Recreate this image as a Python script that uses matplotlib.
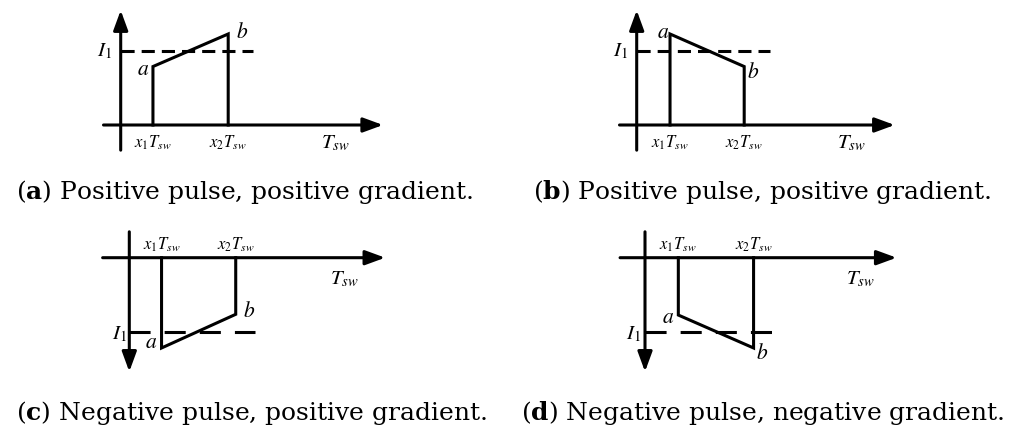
import matplotlib.pyplot as plt

plt.rcParams["mathtext.fontset"] = "custom"
plt.rcParams["mathtext.rm"] = "DejaVu Serif"
plt.rcParams["mathtext.bf"] = "DejaVu Serif:bold"

# pulse shapes: edges in units of T_sw, currents in units of I_1
x_on = [0.15, 0.155, 0.15, 0.155]
x_off = [0.50, 0.50, 0.495, 0.505]
i_start = [0.79, 1.23, -1.22, -0.775]
i_end = [1.23, 0.79, -0.765, -1.22]
i_ref = [1.0, 1.0, -1.0, -1.0]
captions = [
    r"($\mathbf{a}$) Positive pulse, positive gradient.",
    r"($\mathbf{b}$) Positive pulse, positive gradient.",
    r"($\mathbf{c}$) Negative pulse, positive gradient.",
    r"($\mathbf{d}$) Negative pulse, negative gradient.",
]

W, H = 1019, 434
SX, SY = 215.0, 74.0          # pixels per T_sw / per I_1
LW = 2.2

# where each sketch's origin sits (pixels from top-left) and its drawing details
origins = [(120.7, 125.0), (636.7, 125.0), (129.3, 257.7), (645.0, 257.7)]
x_axis = [(-0.08, 1.22), (-0.08, 1.20), (-0.124, 1.19), (-0.116, 1.17)]
y_axis = [(-0.34, 1.55), (-0.34, 1.55), (0.35, -1.54), (0.35, -1.54)]
ref_end = [0.615, 0.62, 0.585, 0.59]
dash = [(4.3, 2.3), (4.3, 2.3), (6.9, 4.6), (6.9, 4.6)]
lbl_a = [(-4, -2, "right"), (-1, 2, "right"), (-4, 6, "right"), (-4, -2, "right")]
lbl_b = [(8, 2, "left"), (3, -5, "left"), (7, 3, "left"), (2, -5, "left")]
lbl_i = [(-9, 0), (-9, 0), (-2, -2.5), (-4, -2.5)]
cap_pos = [(245, 199), (762, 199), (251, 420), (763, 420)]

fig = plt.figure(figsize=(W / 100, H / 100), dpi=100)

arrow = dict(arrowstyle="-|>,head_length=1.2,head_width=0.44", mutation_scale=10,
             lw=LW, color="black", shrinkA=0, shrinkB=0)
math = dict(math_fontfamily="stix", color="black")

for k in range(4):
    ox, oy = origins[k]
    top = k < 2
    xlim = (-0.2, 1.3)
    ylim = (-0.45, 1.7) if top else (-1.7, 0.45)
    left = (ox + xlim[0] * SX) / W
    width = (xlim[1] - xlim[0]) * SX / W
    bottom = (H - (oy - ylim[0] * SY)) / H
    height = (ylim[1] - ylim[0]) * SY / H
    ax = fig.add_axes([left, bottom, width, height])
    ax.set_xlim(*xlim)
    ax.set_ylim(*ylim)
    ax.axis("off")

    # axes with arrow heads
    ax.annotate("", xy=(x_axis[k][1], 0), xytext=(x_axis[k][0], 0), arrowprops=arrow)
    ax.annotate("", xy=(0, y_axis[k][1]), xytext=(0, y_axis[k][0]), arrowprops=arrow)

    # reference level I_1
    ax.plot([0, ref_end[k]], [i_ref[k], i_ref[k]], color="black", lw=LW,
            linestyle=(0, dash[k]), dash_capstyle="butt")

    # the pulse
    ax.plot([x_on[k], x_on[k], x_off[k], x_off[k]], [0, i_start[k], i_end[k], 0],
            color="black", lw=LW, solid_joinstyle="miter")

    # labels
    dx, dy, ha = lbl_a[k]
    ax.annotate(r"$a$", xy=(x_on[k], i_start[k]), xytext=(dx, dy),
                textcoords="offset pixels", ha=ha, va="center", fontsize=15.5, **math)
    dx, dy, ha = lbl_b[k]
    ax.annotate(r"$b$", xy=(x_off[k], i_end[k]), xytext=(dx, dy),
                textcoords="offset pixels", ha=ha, va="center", fontsize=15.5, **math)
    dx, dy = lbl_i[k]
    ax.annotate(r"$I_1$", xy=(0, i_ref[k]), xytext=(dx, dy),
                textcoords="offset pixels", ha="right", va="center", fontsize=15, **math)

    tick_dy = -23 if top else 8
    for xv, s in [(x_on[k], r"$x_1T_{sw}$"), (x_off[k], r"$x_2T_{sw}$")]:
        ax.annotate(s, xy=(xv, 0), xytext=(0, tick_dy), textcoords="offset pixels",
                    ha="center", va="baseline", fontsize=12, **math)
    ax.annotate(r"$T_{sw}$", xy=(1.0, 0), xytext=(0, -23 if top else -27),
                textcoords="offset pixels", ha="center", va="baseline",
                fontsize=15, **math)

for (cx, cy), s in zip(cap_pos, captions):
    fig.text(cx / W, 1 - cy / H, s, ha="center", va="baseline",
             fontsize=18, family="DejaVu Serif")

fig.savefig("out.png", dpi=100, facecolor="white")
